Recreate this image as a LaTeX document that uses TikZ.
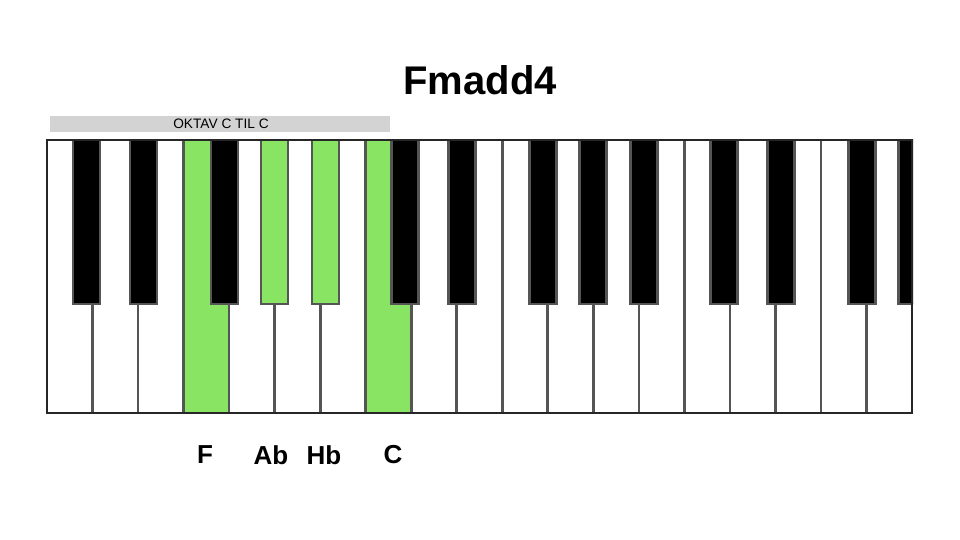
\documentclass[tikz,border=0pt]{standalone}
\usepackage{fontspec}
\setmainfont{Liberation Sans}
\definecolor{keygreen}{RGB}{137,228,99}
\definecolor{keyline}{RGB}{85,85,85}
\definecolor{barfill}{RGB}{211,211,211}
\begin{document}
\begin{tikzpicture}[x=1pt,y=-1pt,
    whitekey/.style={draw=keyline,line width=2.7pt,fill=white},
    blackkey/.style={draw=keyline,line width=2.7pt,fill=black},
    notelabel/.style={font=\fontsize{26}{30}\selectfont\bfseries}]
    \useasboundingbox (0,0) rectangle (960,540);
    % title and octave bar
    \node [font=\fontsize{40}{46}\selectfont\bfseries] (title) at (480,80) {Fmadd4};
    \fill [barfill] (50,116) rectangle (390,132);
    \node [font=\fontsize{13.7}{16}\selectfont] (range) at (221,124) {OKTAV C TIL C};
    % white keys
    \foreach \i in {0,...,18}
      \draw [whitekey] ({47+\i*45.53},140) rectangle ({47+(\i+1)*45.53},413);
    \foreach \i in {3,7}
      \draw [whitekey,fill=keygreen] ({47+\i*45.53},140) rectangle ({47+(\i+1)*45.53},413);
    % black keys
    \begin{scope}
      \clip (46,139) rectangle (913,414);
      \foreach \o in {0,1,2}
        \foreach \d in {26,83,164,214,265}
          \draw [blackkey] ({47+\o*318.7+\d},140) rectangle ({47+\o*318.7+\d+27},304);
      \foreach \d in {214,265}
        \draw [blackkey,fill=keygreen] ({47+\d},140) rectangle ({47+\d+27},304);
    \end{scope}
    \draw [line width=2pt,black!85] (47,140) rectangle (912,413);
    % note names
    \node [notelabel] (F) at (205,455) {F};
    \node [notelabel] (Ab) at (271,455) {Ab};
    \node [notelabel] (Hb) at (324,455) {Hb};
    \node [notelabel] (C) at (393,455) {C};
  \end{tikzpicture}
\end{document}
